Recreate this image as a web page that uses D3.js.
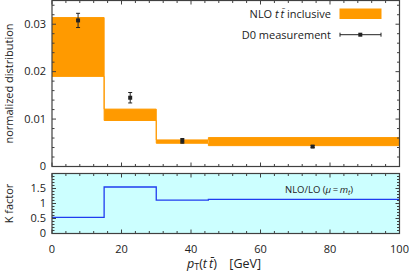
<!DOCTYPE html>
<html><head><meta charset="utf-8">
<script src="https://cdn.jsdelivr.net/npm/d3@7"></script>
<style>
html,body{margin:0;padding:0;background:#fff;}
svg{display:block;font-family:"Open Sans","DejaVu Sans",sans-serif;}
</style></head>
<body>
<script>
// ---- data ----
const binEdges = [0, 15, 30, 45, 100];
const nloLow  = [0.0190, 0.0097, 0.0049, 0.0044];
const nloHigh = [0.0314, 0.0121, 0.0056, 0.0061];
const d0X    = [7.5, 22.5, 37.5, 75];
const d0Y    = [0.0308, 0.0145, 0.0054, 0.0042];
const d0Err  = [0.0015, 0.0011, 0.0005, 0.0002];
const kFactor = [0.54, 1.55, 1.11, 1.14];
const xTicks = [0, 20, 40, 60, 80, 100];
const yTicksMain = [0, 0.01, 0.02, 0.03];
const yTicksK = [0, 0.5, 1, 1.5];

const W = 409, H = 273;
const svg = d3.select("body").append("svg").attr("width", W).attr("height", H);

const x = d3.scaleLinear().domain([0, 100]).range([52, 399.5]);
const yM = d3.scaleLinear().domain([0, 0.035]).range([166.5, 0.5]);
const yK = d3.scaleLinear().domain([0, 2]).range([233.5, 173.5]);

const orange = "#ff9a00";
const axisCol = "#404040";

// ratio background
svg.append("rect").attr("x", x(0)).attr("y", yK(2)).attr("width", x(100) - x(0)).attr("height", yK(0) - yK(2))
  .attr("fill", "#ccffff");

// step data
const stepPts = (arr) => {
  const pts = arr.map((v, i) => ({x: binEdges[i], v}));
  pts.push({x: binEdges[binEdges.length - 1], v: arr[arr.length - 1]});
  return pts;
};
const band = binEdges.slice(0, -1).map((e, i) => ({x0: e, x1: binEdges[i + 1], lo: nloLow[i], hi: nloHigh[i]}));
svg.append("g").selectAll("rect").data(band).join("rect")
  .attr("x", d => x(d.x0)).attr("width", d => x(d.x1) - x(d.x0))
  .attr("y", d => yM(d.hi)).attr("height", d => yM(d.lo) - yM(d.hi))
  .attr("fill", orange);
const stepLineM = d3.line().x(d => x(d.x)).y(d => yM(d.v)).curve(d3.curveStepAfter);
[nloLow, nloHigh].forEach(arr => {
  svg.append("path").attr("d", stepLineM(stepPts(arr))).attr("fill", "none")
    .attr("stroke", orange).attr("stroke-width", 1);
});

// K factor
const stepLineK = d3.line().x(d => x(d.x)).y(d => yK(d.v)).curve(d3.curveStepAfter);
svg.append("path").attr("d", stepLineK(stepPts(kFactor))).attr("fill", "none")
  .attr("stroke", "#1f3cf0").attr("stroke-width", 1.3);

// D0 points
const d0 = d0X.map((xx, i) => ({x: xx, y: d0Y[i], e: d0Err[i]}));
const gp = svg.append("g").attr("stroke", "#222").attr("stroke-width", 1);
d0.forEach(d => {
  const cx = x(d.x);
  gp.append("line").attr("x1", cx).attr("x2", cx).attr("y1", yM(d.y + d.e)).attr("y2", yM(d.y - d.e));
  gp.append("line").attr("x1", cx - 2).attr("x2", cx + 2).attr("y1", yM(d.y + d.e)).attr("y2", yM(d.y + d.e));
  gp.append("line").attr("x1", cx - 2).attr("x2", cx + 2).attr("y1", yM(d.y - d.e)).attr("y2", yM(d.y - d.e));
  gp.append("rect").attr("x", cx - 2).attr("y", yM(d.y) - 2).attr("width", 4).attr("height", 4).attr("fill", "#222").attr("stroke", "none");
});

// axes: ticks inward on all sides
function frame(yScale, yTicks, yMinorStep, yFmt) {
  const [y0, y1] = yScale.range();
  const g = svg.append("g");
  const tl = 4, tm = 2.5;
  const xMinor = d3.range(0, 100.001, 4);
  xMinor.forEach(v => {
    const major = xTicks.includes(v);
    const L = major ? tl : tm;
    g.append("line").attr("x1", x(v)).attr("x2", x(v)).attr("y1", y0).attr("y2", y0 - L).attr("stroke", axisCol);
    g.append("line").attr("x1", x(v)).attr("x2", x(v)).attr("y1", y1).attr("y2", y1 + L).attr("stroke", axisCol);
  });
  const [dmin, dmax] = yScale.domain();
  d3.range(dmin, dmax + 1e-9, yMinorStep).forEach(v => {
    const major = yTicks.some(t => Math.abs(t - v) < 1e-9);
    const L = major ? tl : tm;
    g.append("line").attr("x1", x(0)).attr("x2", x(0) + L).attr("y1", yScale(v)).attr("y2", yScale(v)).attr("stroke", axisCol);
    g.append("line").attr("x1", x(100)).attr("x2", x(100) - L).attr("y1", yScale(v)).attr("y2", yScale(v)).attr("stroke", axisCol);
  });
  yTicks.forEach(v => {
    g.append("text").attr("x", x(0) - 6).attr("y", yScale(v)).attr("dy", "0.35em")
      .attr("text-anchor", "end").attr("font-size", 11).attr("fill", "#222").text(yFmt(v));
  });
  g.append("rect").attr("x", x(0)).attr("y", y1).attr("width", x(100) - x(0)).attr("height", y0 - y1)
    .attr("fill", "none").attr("stroke", axisCol).attr("stroke-width", 1.2);
}
frame(yM, yTicksMain, 0.002, v => v === 0 ? "0" : d3.format(".2f")(v));
frame(yK, yTicksK, 0.1, v => String(v));

// x tick labels
svg.append("g").selectAll("text").data(xTicks).join("text")
  .attr("x", d => x(d)).attr("y", 249).attr("dy", "0.35em").attr("text-anchor", "middle")
  .attr("font-size", 11).attr("fill", "#222").text(d => d);

// axis titles
svg.append("text").attr("transform", `translate(13,${yM(0.0175)}) rotate(-90)`).attr("text-anchor", "middle")
  .attr("font-size", 11).attr("fill", "#222").text("normalized distribution");
svg.append("text").attr("transform", `translate(13,${yK(1)}) rotate(-90)`).attr("text-anchor", "middle")
  .attr("font-size", 11).attr("fill", "#222").text("K factor");

const xt = svg.append("text").attr("x", 224).attr("y", 268).attr("text-anchor", "middle").attr("font-size", 12.5).attr("fill", "#222");
xt.append("tspan").attr("font-style", "italic").text("p");
xt.append("tspan").attr("font-size", 9).attr("dy", 2).text("T");
xt.append("tspan").attr("dy", -2).text("(");
xt.append("tspan").attr("font-style", "italic").text("t");
xt.append("tspan").attr("font-style", "italic").text("\u2009t\u0304");
xt.append("tspan").text(")\u2003[GeV]");

// legend
const lg = svg.append("g");
const l1 = lg.append("text").attr("x", 331).attr("y", 14).attr("dy", "0.35em").attr("text-anchor", "end").attr("font-size", 11).attr("fill", "#222");
l1.append("tspan").text("NLO ");
l1.append("tspan").attr("font-style", "italic").text("t");
l1.append("tspan").attr("font-style", "italic").text("\u2009t\u0304");
l1.append("tspan").text(" inclusive");
lg.append("rect").attr("x", 339.5).attr("y", 8.5).attr("width", 42).attr("height", 10.5).attr("fill", orange);
lg.append("text").attr("x", 331).attr("y", 34.7).attr("dy", "0.35em").attr("text-anchor", "end").attr("font-size", 11).attr("fill", "#222").text("D0 measurement");
lg.append("line").attr("x1", 340).attr("x2", 381).attr("y1", 34.7).attr("y2", 34.7).attr("stroke", "#222");
lg.append("line").attr("x1", 340).attr("x2", 340).attr("y1", 32.7).attr("y2", 36.7).attr("stroke", "#222");
lg.append("line").attr("x1", 381).attr("x2", 381).attr("y1", 32.7).attr("y2", 36.7).attr("stroke", "#222");
lg.append("rect").attr("x", 358.3).attr("y", 32.7).attr("width", 4).attr("height", 4).attr("fill", "#222");

// ratio label
const rl = svg.append("text").attr("x", 285).attr("y", 190).attr("dy", "0.35em").attr("font-size", 9.5).attr("fill", "#222");
rl.append("tspan").text("NLO/LO (");
rl.append("tspan").attr("font-style", "italic").text("\u03bc");
rl.append("tspan").text("\u2009=\u2009");
rl.append("tspan").attr("font-style", "italic").text("m");
rl.append("tspan").attr("font-style", "italic").attr("font-size", 7).attr("dy", 1.5).text("t");
rl.append("tspan").attr("dy", -1.5).text(")");
</script>
</body></html>
